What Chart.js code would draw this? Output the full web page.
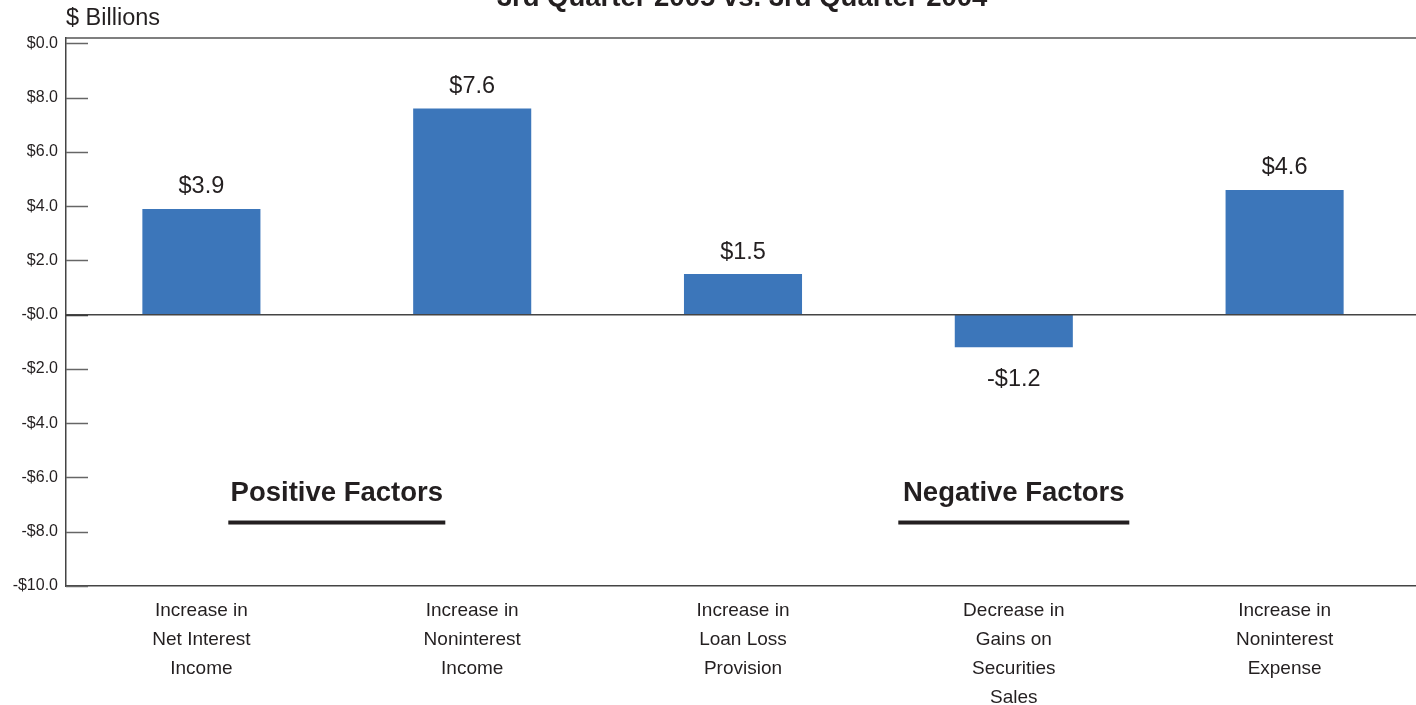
<!DOCTYPE html>
<html lang="en">
<head>
    <meta charset="UTF-8">
    <title>3rd Quarter 2005 vs. 3rd Quarter 2004</title>
    <script src="https://cdn.jsdelivr.net/npm/chart.js"></script>
    <style>
        body {
            margin: 0;
            overflow: hidden;
            background: #ffffff;
            font-family: "Liberation Sans", Arial, sans-serif;
        }

        /* plot runs a few px past the right edge, as in the original */
        .chart-container {
            width: 1420px;
            height: 705px;
        }
    </style>
</head>
<body>
    <div class="chart-container">
        <canvas id="factors-chart"></canvas>
    </div>

    <script>
        // Chart data
        const categories = [
            ['Increase in', 'Net Interest', 'Income'],
            ['Increase in', 'Noninterest', 'Income'],
            ['Increase in', 'Loan Loss', 'Provision'],
            ['Decrease in', 'Gains on', 'Securities', 'Sales'],
            ['Increase in', 'Noninterest', 'Expense']
        ];
        const changes = [3.9, 7.6, 1.5, -1.2, 4.6];
        const tickValues = [-10, -8, -6, -4, -2, 0, 2, 4, 6, 8, 10];
        const tickLabels = ['-$10.0', '-$8.0', '-$6.0', '-$4.0', '-$2.0', '-$0.0', '$2.0', '$4.0', '$6.0', '$8.0', '$0.0'];

        const titleText = '3rd Quarter 2005 vs. 3rd Quarter 2004';
        const unitText = '$ Billions';
        const FONT = '"Liberation Sans", Arial, sans-serif';
        const INK = '#231f20';

        function money(v) {
            return (v < 0 ? '-$' : '$') + Math.abs(v).toFixed(1);
        }

        // Frame, inward ticks, zero line, titles and factor headings
        const decorations = {
            id: 'decorations',
            beforeDatasetsDraw(chart) {
                const { ctx, chartArea, scales } = chart;
                const y = scales.y;
                ctx.save();
                // top border
                ctx.strokeStyle = '#555';
                ctx.lineWidth = 1.5;
                ctx.beginPath();
                ctx.moveTo(chartArea.left, chartArea.top);
                ctx.lineTo(chartArea.right, chartArea.top);
                ctx.stroke();
                // inward tick marks
                y.ticks.forEach(t => {
                    const py = Math.round(y.getPixelForValue(t.value)) + 0.5;
                    ctx.strokeStyle = t.value === 0 ? '#333' : '#666';
                    ctx.beginPath();
                    ctx.moveTo(chartArea.left, py);
                    ctx.lineTo(chartArea.left + 22, py);
                    ctx.stroke();
                });
                ctx.restore();
            },
            afterDatasetsDraw(chart) {
                const { ctx, chartArea, scales } = chart;
                const x = scales.x, y = scales.y;
                ctx.save();
                // zero line
                const zy = y.getPixelForValue(0);
                ctx.strokeStyle = '#444';
                ctx.lineWidth = 1.5;
                ctx.beginPath();
                ctx.moveTo(chartArea.left, zy);
                ctx.lineTo(chartArea.right, zy);
                ctx.stroke();

                // title (cropped at top like the original)
                ctx.fillStyle = INK;
                ctx.font = 'bold 27.5px ' + FONT;
                ctx.textAlign = 'center';
                ctx.textBaseline = 'alphabetic';
                ctx.fillText(titleText, 742, 6);

                // unit label
                ctx.font = '23.5px ' + FONT;
                ctx.textAlign = 'left';
                ctx.textBaseline = 'middle';
                ctx.fillText(unitText, chartArea.left, 19);

                // factor headings
                const headings = [
                    { text: 'Positive Factors', cx: (x.getPixelForValue(0) + x.getPixelForValue(1)) / 2, half: 108.5 },
                    { text: 'Negative Factors', cx: x.getPixelForValue(3), half: 115.5 }
                ];
                ctx.font = 'bold 27.5px ' + FONT;
                ctx.textAlign = 'center';
                headings.forEach(h => {
                    ctx.fillStyle = INK;
                    ctx.fillText(h.text, h.cx, y.getPixelForValue(-6.58));
                    ctx.fillRect(h.cx - h.half, y.getPixelForValue(-7.66) - 2, h.half * 2, 4);
                });

                // value labels
                ctx.font = '23.5px ' + FONT;
                const meta = chart.getDatasetMeta(0);
                meta.data.forEach((bar, i) => {
                    const v = changes[i];
                    const ty = v >= 0 ? bar.y - 22 : bar.y + 32;
                    ctx.fillText(money(v), bar.x, ty);
                });
                ctx.restore();
            }
        };

        const ctx = document.getElementById('factors-chart').getContext('2d');
        new Chart(ctx, {
            type: 'bar',
            data: {
                labels: categories,
                datasets: [{
                    data: changes,
                    backgroundColor: '#3c76ba',
                    borderWidth: 0,
                    barPercentage: 0.436,
                    categoryPercentage: 1
                }]
            },
            options: {
                responsive: true,
                maintainAspectRatio: false,
                animation: false,
                layout: { padding: { top: 38, left: 0, right: 0, bottom: 0 } },
                plugins: {
                    legend: { display: false },
                    tooltip: { enabled: false }
                },
                scales: {
                    x: {
                        grid: { display: false, drawTicks: false },
                        border: { display: true, color: '#444', width: 1.5 },
                        ticks: {
                            color: INK,
                            padding: 10,
                            maxRotation: 0,
                            autoSkip: false,
                            font: { family: FONT, size: 19, lineHeight: 29 / 19 }
                        },
                        afterFit(scale) { scale.height = 119; }
                    },
                    y: {
                        min: -10,
                        max: 10.2,
                        grid: { display: false, drawTicks: false },
                        border: { display: true, color: '#444', width: 1.5 },
                        afterBuildTicks(scale) {
                            scale.ticks = tickValues.map(v => ({ value: v }));
                        },
                        ticks: {
                            color: INK,
                            padding: 8,
                            font: { family: FONT, size: 16 },
                            callback: (v) => tickLabels[tickValues.indexOf(v)]
                        },
                        afterFit(scale) { scale.width = 66; }
                    }
                }
            },
            plugins: [decorations]
        });
    </script>
</body>
</html>
